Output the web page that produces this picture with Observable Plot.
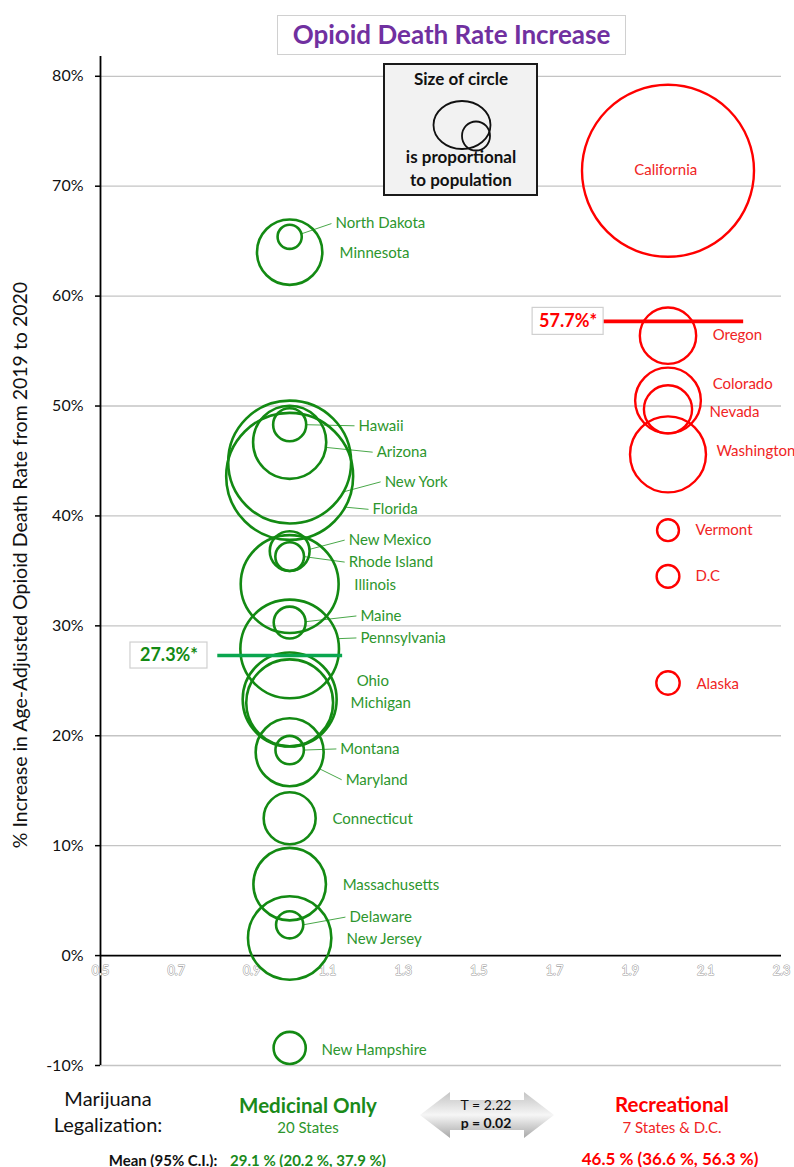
<!DOCTYPE html>
<html><head><meta charset="utf-8">
<script src="https://cdn.jsdelivr.net/npm/d3@7"></script>
<script src="https://cdn.jsdelivr.net/npm/@observablehq/plot@0.6"></script>
<style>
body{margin:0;background:#fff;font-family:Lato,"Open Sans",sans-serif;}
#wrap{position:relative;width:794px;height:1167px;overflow:hidden}
.abs{position:absolute;white-space:nowrap;transform:translate(-50%,-50%);line-height:1}
svg{overflow:visible}
</style></head><body><div id="wrap"><div style="height:46px"></div></div>
<script>
// ---------- data ----------
const medStates = ["North Dakota","Minnesota","Hawaii","Arizona","New York","Florida","New Mexico","Rhode Island","Illinois","Maine","Pennsylvania","Ohio","Michigan","Montana","Maryland","Connecticut","Massachusetts","Delaware","New Jersey","New Hampshire"];
const medValues = [65.4,64.0,48.3,46.7,44.9,43.6,36.8,36.3,33.8,30.3,27.9,23.3,23.0,18.7,18.5,12.5,6.5,2.8,1.6,-8.4];
const medPop    = [0.78,5.71,1.46,7.15,20.2,21.54,2.12,1.10,12.81,1.36,13.0,11.8,10.08,1.08,6.18,3.61,7.03,0.99,9.29,1.38];
const recStates = ["California","Oregon","Colorado","Nevada","Washington","Vermont","D.C","Alaska"];
const recValues = [71.4,56.4,50.5,49.7,45.6,38.7,34.5,24.8];
const recPop    = [39.54,4.24,5.77,3.10,7.71,0.64,0.69,0.73];
const groups = ["Medicinal Only","Recreational"];
const groupX = [1.0, 2.0];
const groupCounts = ["20 States","7 States & D.C."];
const medians = [27.3, 57.7];
const meanCI = ["29.1 % (20.2 %, 37.9 %)","46.5 % (36.6 %, 56.3 %)"];
const tTest = ["T = 2.22","p = 0.02"];
const xTicks = [0.5,0.7,0.9,1.1,1.3,1.5,1.7,1.9,2.1,2.3];
const yTicks = [-10,0,10,20,30,40,50,60,70,80];
const yLabel = "% Increase in Age-Adjusted Opioid Death Rate from 2019 to 2020";

// ---------- layout (label positions in data units, leader start angle in degrees) ----------
const labelLayout = {
 "North Dakota":[1.121,66.6,-14], "Minnesota":[1.132,63.9,null], "Hawaii":[1.182,48.2,0],
 "Arizona":[1.230,45.8,8], "New York":[1.251,43.1,29], "Florida":[1.219,40.6,29],
 "New Mexico":[1.156,37.8,-5], "Rhode Island":[1.156,35.8,0], "Illinois":[1.171,33.7,null],
 "Maine":[1.187,30.9,-3], "Pennsylvania":[1.187,28.9,-12], "Ohio":[1.177,25.0,null],
 "Michigan":[1.161,23.0,null], "Montana":[1.134,18.8,0], "Maryland":[1.148,16.0,29],
 "Connecticut":[1.113,12.4,null], "Massachusetts":[1.140,6.4,null], "Delaware":[1.158,3.5,0],
 "New Jersey":[1.150,1.5,null], "New Hampshire":[1.084,-8.6,null],
 "California":[1.994,71.5,null], "Oregon":[2.118,56.4,null], "Colorado":[2.118,52.0,null],
 "Nevada":[2.110,49.4,null], "Washington":[2.128,45.9,null], "Vermont":[2.073,38.7,null],
 "D.C":[2.073,34.5,null], "Alaska":[2.075,24.7,null]
};
const medianSpan = [[-0.19,0.14],[-0.17,0.2]];
const medianLabelX = [0.681, 1.736];
const medianBox = [[77,26],[71,27]]; // px

const GREEN = "#138a13", GREEN_T = "#2d962d", GREEN_MED = "#0aa64f", RED = "#ff0000", RED_T = "#f02424";

const W = 794, H = 1034, ML = 100, MR = 13, MT = 10, MB = 15;
const xDom = [0.5, 2.3], yDom = [-10, 81.8], rDom = [0, 39.54], rRange = [0, 86];
const xs = d3.scaleLinear(xDom, [ML, W - MR]);
const ys = d3.scaleLinear(yDom, [H - MB, MT]);
const rs = d3.scaleSqrt(rDom, rRange);

const med = medStates.map((s,i)=>({name:s, gx:groupX[0], value:medValues[i], pop:medPop[i]}));
const rec = recStates.map((s,i)=>({name:s, gx:groupX[1], value:recValues[i], pop:recPop[i]}));
const lab = d => ({...d, lx: labelLayout[d.name][0], ly: labelLayout[d.name][1], ang: labelLayout[d.name][2]});
const medL = med.map(lab), recL = rec.map(lab);
const leaders = medL.filter(d => d.ang !== null).map(d => {
  const a = d.ang * Math.PI/180, cx = xs(d.gx), cy = ys(d.value), rr = rs(d.pop);
  return {x1: xs.invert(cx + rr*Math.cos(a)), y1: ys.invert(cy + rr*Math.sin(a)),
          x2: xs.invert(xs(d.lx) - 4), y2: d.ly};
});
const medianData = medians.map((m,i)=>{
  const cx = xs(medianLabelX[i]), cy = ys(m), [bw, bh] = medianBox[i];
  return {v:m, a:groupX[i]+medianSpan[i][0], b:groupX[i]+medianSpan[i][1], lx:medianLabelX[i],
    bx1: xs.invert(cx - bw/2), bx2: xs.invert(cx + bw/2), by1: ys.invert(cy - bh/2), by2: ys.invert(cy + bh/2),
    t:m.toFixed(1)+"%*", c: i===0?GREEN_MED:RED, tc: i===0?GREEN:RED};
});

const plot = Plot.plot({
  width: W, height: H, marginLeft: ML, marginRight: MR, marginTop: MT, marginBottom: MB,
  x: {domain: xDom, axis: null},
  y: {domain: yDom},
  r: {type: "sqrt", domain: rDom, range: rRange},
  style: {fontFamily: "Lato, 'Open Sans', sans-serif", background: "transparent", overflow: "visible"},
  marks: [
    Plot.ruleY(yTicks.filter(d => d !== 0), {stroke: "#c4c4c4", strokeWidth: 1.3}),
    Plot.ruleY([0], {stroke: "black", strokeWidth: 1.6}),
    Plot.ruleX([xDom[0]], {stroke: "black", strokeWidth: 1.8}),
    Plot.axisY({ticks: yTicks, tickFormat: d => d + "%", tickSize: 5, tickPadding: 12, fontSize: 16, label: null, stroke: "black", strokeWidth: 1.5, fill: "#111"}),
    Plot.text([yLabel], {frameAnchor: "left", textAnchor: "middle", rotate: -90, dx: -80, dy: 4, fontSize: 19.5, fill: "#111"}),
    Plot.text(xTicks, {x: d => d, y: 0, text: d => d.toFixed(1), dy: 15, fill: "white", stroke: "#a0a0a0", strokeWidth: 1.1, fontSize: 12.5}),
    Plot.link(leaders, {x1: "x1", y1: "y1", x2: "x2", y2: "y2", stroke: "#4aa84a", strokeWidth: 1}),
    Plot.dot(med, {x: "gx", y: "value", r: "pop", stroke: GREEN, strokeWidth: 2.6, fill: "none"}),
    Plot.dot(rec, {x: "gx", y: "value", r: "pop", stroke: RED, strokeWidth: 2.4, fill: "none"}),
    Plot.text(medL, {x: "lx", y: "ly", text: "name", textAnchor: "start", fill: GREEN_T, fontSize: 15}),
    Plot.text(recL.filter(d => d.name !== "California"), {x: "lx", y: "ly", text: "name", textAnchor: "start", fill: RED_T, fontSize: 15}),
    Plot.text(recL.filter(d => d.name === "California"), {x: "lx", y: "ly", text: "name", textAnchor: "middle", fill: RED_T, fontSize: 15}),
    Plot.ruleY(medianData, {y: "v", x1: "a", x2: "b", stroke: "c", strokeWidth: 3.6}),
    Plot.rect(medianData, {x1: "bx1", x2: "bx2", y1: "by1", y2: "by2", fill: "white", stroke: "#d0d0d0", strokeWidth: 1.2}),
    Plot.text(medianData, {x: "lx", y: "v", text: "t", fill: "tc", fontWeight: "bold", fontSize: 18})
  ]
});
const wrap = document.getElementById("wrap");
wrap.appendChild(plot);

// title
const title = document.createElement("div");
title.textContent = "Opioid Death Rate Increase";
Object.assign(title.style, {position:"absolute", left:"277px", top:"15px", width:"349px", height:"40px", boxSizing:"border-box",
  border:"1.5px solid #d0d0d0", background:"white", color:"#7030a0", fontWeight:"bold", fontSize:"26px", textAlign:"center", lineHeight:"37px"});
wrap.appendChild(title);

// size legend
const lg = d3.select(wrap).append("svg").attr("width", 156).attr("height", 134)
  .style("position","absolute").style("left","383px").style("top","63px");
lg.append("rect").attr("x",1).attr("y",1).attr("width",153).attr("height",131).attr("fill","#f2f2f2").attr("stroke","#1a1a1a").attr("stroke-width",2);
const lgT = (t,y) => lg.append("text").attr("x",78).attr("y",y).attr("text-anchor","middle").attr("dominant-baseline","middle")
  .attr("font-family","Lato, sans-serif").attr("font-weight","bold").attr("font-size",17).attr("fill","#111").text(t);
lgT("Size of circle", 18); lgT("is proportional", 96); lgT("to population", 119);
lg.append("ellipse").attr("cx",79).attr("cy",62).attr("rx",28.5).attr("ry",24).attr("fill","none").attr("stroke","#111").attr("stroke-width",1.8);
lg.append("ellipse").attr("cx",93).attr("cy",73).attr("rx",14).attr("ry",14.5).attr("fill","none").attr("stroke","#111").attr("stroke-width",1.8);

// bottom section
function place(text, cx, cy, style){
  const d = document.createElement("div"); d.className = "abs"; d.textContent = text;
  Object.assign(d.style, {left: cx + "px", top: cy + "px"}, style); wrap.appendChild(d);
}
place("Marijuana", 108, 1098, {fontSize:"20px", color:"#111"});
place("Legalization:", 108, 1124, {fontSize:"20px", color:"#111"});
place(groups[0], 308, 1105, {fontSize:"20.5px", fontWeight:"bold", color:"#1a8a1a"});
place(groupCounts[0], 308, 1127, {fontSize:"15px", color:"#2d962d"});
place(groups[1], 672, 1104, {fontSize:"20.5px", fontWeight:"bold", color:RED});
place(groupCounts[1], 672, 1127, {fontSize:"15px", color:RED_T});
const ar = d3.select(wrap).append("svg").attr("width",136).attr("height",48)
  .style("position","absolute").style("left","419px").style("top","1091px");
const gr = ar.append("defs").append("linearGradient").attr("id","ag").attr("x1",0).attr("y1",0).attr("x2",0).attr("y2",1);
gr.append("stop").attr("offset","0%").attr("stop-color","#c4c4c4");
gr.append("stop").attr("offset","50%").attr("stop-color","#f6f6f6");
gr.append("stop").attr("offset","100%").attr("stop-color","#a8a8a8");
ar.append("polygon").attr("points","1,24 31,1 31,9 105,9 105,1 135,24 105,47 105,39 31,39 31,47").attr("fill","url(#ag)");
place(tTest[0], 486, 1105, {fontSize:"14px", color:"#111"});
place(tTest[1], 486, 1123, {fontSize:"14px", fontWeight:"bold", color:"#111"});
place("Mean (95% C.I.):", 163, 1160, {fontSize:"15px", fontWeight:"bold", color:"#111"});
place(meanCI[0], 308, 1160, {fontSize:"15px", fontWeight:"bold", color:"#1a8a1a"});
place(meanCI[1], 670, 1158, {fontSize:"17px", fontWeight:"bold", color:RED});
</script></body></html>
